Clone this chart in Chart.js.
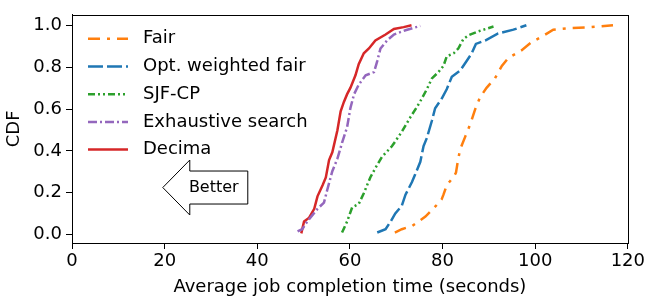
<!DOCTYPE html>
<html>
<head>
<meta charset="utf-8">
<script src="https://cdn.jsdelivr.net/npm/chart.js@4.4.0/dist/chart.umd.min.js"></script>
<style>
  html, body { margin: 0; padding: 0; background: #fff; }
  #wrap { width: 647px; height: 300px; }
</style>
</head>
<body>
<div id="wrap"><canvas id="cdfChart"></canvas></div>
<script>
const seriesNames = ['Fair', 'Opt. weighted fair', 'SJF-CP', 'Exhaustive search', 'Decima'];
const seriesColors = ['#ff7f0e', '#1f77b4', '#2ca02c', '#9467bd', '#d62728'];
const seriesDashes = [[12, 7, 3, 7], [15, 4], [7, 3, 2, 3, 2, 3], [9, 3, 2, 3], []];

const xTicks = [0, 20, 40, 60, 80, 100, 120];
const yTicks = [0, 0.2, 0.4, 0.6, 0.8, 1.0];

// average job completion time (s) vs CDF
const fairTime = [69.7, 71.2, 73.4, 76.3, 78.1, 79.8, 80.2, 80.9, 82.4, 82.9, 83.3, 83.8, 84.9, 86.0, 87.0, 88.1, 89.5, 91.3, 92.8, 94.2, 97.1, 99.2, 101.7, 103.9, 107.5, 110.7, 113.5, 116.8];
const fairCdf = [0.01, 0.026, 0.041, 0.086, 0.126, 0.168, 0.191, 0.236, 0.276, 0.296, 0.351, 0.408, 0.468, 0.528, 0.596, 0.656, 0.701, 0.746, 0.806, 0.844, 0.881, 0.919, 0.949, 0.979, 0.986, 0.989, 0.994, 1.0];

const optTime = [65.9, 67.7, 68.8, 69.8, 71.2, 72.0, 73.4, 74.1, 75.2, 75.9, 76.6, 77.7, 78.4, 79.8, 80.9, 82.0, 83.8, 85.2, 86.3, 87.2, 89.2, 92.0, 95.3, 98.1];
const optCdf = [0.01, 0.026, 0.063, 0.101, 0.138, 0.191, 0.251, 0.288, 0.348, 0.423, 0.461, 0.544, 0.604, 0.649, 0.694, 0.754, 0.784, 0.829, 0.866, 0.911, 0.927, 0.961, 0.979, 1.0];

const sjfTime = [58.3, 59.4, 60.5, 61.9, 63.0, 64.4, 65.5, 66.9, 69.1, 71.2, 73.0, 74.5, 75.5, 76.6, 77.7, 79.1, 80.2, 80.9, 82.4, 83.4, 84.5, 85.6, 87.7, 91.0];
const sjfCdf = [0.01, 0.063, 0.131, 0.146, 0.198, 0.273, 0.318, 0.371, 0.423, 0.491, 0.559, 0.611, 0.649, 0.694, 0.746, 0.776, 0.806, 0.851, 0.866, 0.889, 0.934, 0.952, 0.971, 0.994];

const exhTime = [48.7, 49.7, 50.8, 51.9, 53.0, 54.4, 55.1, 56.2, 57.3, 58.3, 59.4, 60.1, 60.9, 61.9, 63.4, 65.2, 65.9, 66.6, 68.0, 69.5, 72.0, 75.2];
const exhCdf = [0.015, 0.026, 0.063, 0.093, 0.123, 0.153, 0.213, 0.303, 0.363, 0.438, 0.514, 0.604, 0.671, 0.716, 0.761, 0.776, 0.829, 0.889, 0.927, 0.956, 0.976, 0.997];

const decimaTime = [49.5, 50.1, 51.2, 52.3, 53.0, 54.1, 54.8, 55.5, 56.2, 57.3, 58.0, 58.7, 59.4, 60.1, 61.2, 61.9, 63.0, 64.1, 65.5, 67.7, 69.5, 71.6, 73.3];
const decimaCdf = [0.006, 0.063, 0.081, 0.123, 0.183, 0.236, 0.273, 0.356, 0.393, 0.499, 0.589, 0.634, 0.671, 0.701, 0.761, 0.814, 0.866, 0.889, 0.927, 0.956, 0.982, 0.991, 1.0];

const seriesTimes = [fairTime, optTime, sjfTime, exhTime, decimaTime];
const seriesCdfs = [fairCdf, optCdf, sjfCdf, exhCdf, decimaCdf];

const FONT = 'DejaVu Sans';

function toPoints(xs, ys) {
    return xs.map((x, i) => ({ x: x, y: ys[i] }));
}

// box around the plot (matplotlib spines)
const framePlugin = {
    id: 'frame',
    afterDraw(chart) {
        const { ctx, chartArea: a } = chart;
        ctx.save();
        ctx.strokeStyle = '#000';
        ctx.lineWidth = 1;
        ctx.strokeRect(Math.round(a.left) + 0.5, Math.round(a.top) + 0.5,
            Math.round(a.right - a.left), Math.round(a.bottom - a.top));
        ctx.restore();
    }
};

// legend in the upper left corner, no frame
const innerLegend = {
    id: 'innerLegend',
    afterDraw(chart) {
        const { ctx, chartArea: a } = chart;
        ctx.save();
        ctx.font = '18px "' + FONT + '"';
        ctx.textBaseline = 'middle';
        ctx.lineCap = 'butt';
        seriesNames.forEach((name, i) => {
            const y = a.top + 24 + i * 27.7;
            ctx.strokeStyle = seriesColors[i];
            ctx.lineWidth = 2.5;
            ctx.setLineDash(seriesDashes[i]);
            ctx.beginPath();
            ctx.moveTo(a.left + 16, y);
            ctx.lineTo(a.left + 56, y);
            ctx.stroke();
            ctx.setLineDash([]);
            ctx.fillStyle = '#000';
            ctx.fillText(name, a.left + 71, y);
        });
        ctx.restore();
    }
};

// "Better" arrow pointing left
const betterArrow = {
    id: 'betterArrow',
    afterDraw(chart) {
        const { ctx } = chart;
        const xs = chart.scales.x, ys = chart.scales.y;
        const tipX = xs.getPixelForValue(19.6);
        const midY = ys.getPixelForValue(0.225);
        const headLen = 27, headHalf = 27.5, bodyHalf = 16.5, bodyLen = 58;
        ctx.save();
        ctx.beginPath();
        ctx.moveTo(tipX, midY);
        ctx.lineTo(tipX + headLen, midY - headHalf);
        ctx.lineTo(tipX + headLen, midY - bodyHalf);
        ctx.lineTo(tipX + headLen + bodyLen, midY - bodyHalf);
        ctx.lineTo(tipX + headLen + bodyLen, midY + bodyHalf);
        ctx.lineTo(tipX + headLen, midY + bodyHalf);
        ctx.lineTo(tipX + headLen, midY + headHalf);
        ctx.closePath();
        ctx.fillStyle = '#fff';
        ctx.fill();
        ctx.strokeStyle = '#000';
        ctx.lineWidth = 1;
        ctx.stroke();
        ctx.fillStyle = '#000';
        ctx.font = '16px "' + FONT + '"';
        ctx.textAlign = 'center';
        ctx.textBaseline = 'middle';
        ctx.fillText('Better', tipX + 51, midY);
        ctx.restore();
    }
};

function initializeCdfChart() {
    const ctx = document.getElementById('cdfChart').getContext('2d');

    const datasets = seriesNames.map((name, i) => ({
        label: name,
        data: toPoints(seriesTimes[i], seriesCdfs[i]),
        borderColor: seriesColors[i],
        backgroundColor: seriesColors[i],
        borderWidth: 2.5,
        borderDash: seriesDashes[i],
        borderCapStyle: 'butt',
        pointRadius: 0,
        tension: 0,
        fill: false
    }));

    new Chart(ctx, {
        type: 'line',
        data: { datasets: datasets },
        options: {
            responsive: true,
            maintainAspectRatio: false,
            animation: false,
            layout: { padding: { left: 0, top: 1, right: 17, bottom: 0 } },
            plugins: {
                legend: { display: false },
                tooltip: { enabled: false }
            },
            scales: {
                x: {
                    type: 'linear',
                    min: 0,
                    max: 120,
                    afterBuildTicks: function(scale) {
                        scale.ticks = xTicks.map(v => ({ value: v }));
                    },
                    afterFit: function(scale) {
                        scale.height = 57;
                    },
                    grid: {
                        drawOnChartArea: false,
                        drawTicks: true,
                        tickLength: 6,
                        tickColor: '#000'
                    },
                    border: { display: true, color: '#000', width: 1 },
                    ticks: {
                        color: '#000',
                        font: { family: FONT, size: 18 },
                        padding: 2,
                        maxRotation: 0,
                        callback: function(value) {
                            return String(value);
                        }
                    },
                    title: {
                        display: true,
                        text: 'Average job completion time (seconds)',
                        color: '#000',
                        font: { family: FONT, size: 18 },
                        padding: { top: 0, bottom: 2 }
                    }
                },
                y: {
                    type: 'linear',
                    min: -0.04,
                    max: 1.05,
                    afterBuildTicks: function(scale) {
                        scale.ticks = yTicks.map(v => ({ value: v }));
                    },
                    afterFit: function(scale) {
                        scale.width = 72;
                    },
                    grid: {
                        drawOnChartArea: false,
                        drawTicks: true,
                        tickLength: 6,
                        tickColor: '#000'
                    },
                    border: { display: true, color: '#000', width: 1 },
                    ticks: {
                        color: '#000',
                        font: { family: FONT, size: 18 },
                        padding: 4,
                        callback: function(value) {
                            return value.toFixed(1);
                        }
                    },
                    title: {
                        display: true,
                        text: 'CDF',
                        color: '#000',
                        font: { family: FONT, size: 18 },
                        padding: { top: 4, bottom: 0 }
                    }
                }
            }
        },
        plugins: [framePlugin, innerLegend, betterArrow]
    });
}

document.addEventListener('DOMContentLoaded', function() {
    initializeCdfChart();
});
</script>
</body>
</html>
